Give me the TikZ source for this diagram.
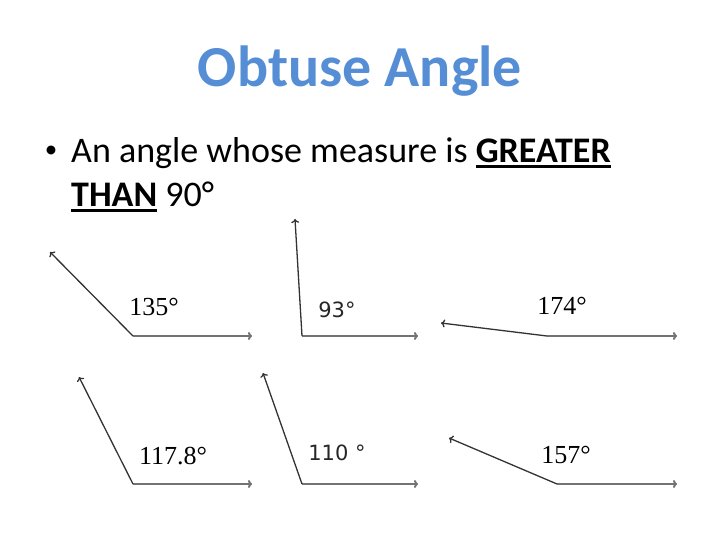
\documentclass[tikz,border=0pt]{standalone}
\usepackage{fontspec}
\setmainfont{Carlito}
\newfontfamily\lblserif{Liberation Serif}
\newfontfamily\lblsans{DejaVu Sans}
\usetikzlibrary{arrows.meta}
\definecolor{titleblue}{RGB}{85,142,213}
\newcommand\myul[1]{\setbox0\hbox{#1}\rlap{\rule[-5pt]{\wd0}{2.8pt}}\box0\relax}
\tikzset{
  baseray/.style={draw=black!55, line width=2pt, -{To[length=4pt,width=8pt]}},
  sideray/.style={draw=black!80, line width=1.3pt, -{To[length=4pt,width=8pt]}},
  seriflbl/.style={font=\lblserif\fontsize{26}{30}\selectfont, text=black},
  sanslbl/.style={font=\lblsans\fontsize{21}{24}\selectfont, text=black!85},
}
\begin{document}
\begin{tikzpicture}[x=1pt,y=-1pt]
\useasboundingbox (0,0) rectangle (720,540);
% title
\node[anchor=base, text=titleblue, font=\bfseries\fontsize{58}{64}\selectfont, inner sep=0] (title) at (360,87) {Obtuse Angle};
% bullet
\node[font=\fontsize{25}{30}\selectfont, inner sep=0] (bul) at (51,152) {\textbullet};
\node[anchor=base west, font=\fontsize{36}{44}\selectfont, inner sep=0] (line1) at (71,163) {An angle whose measure is \myul{\textbf{GREATER}}};
\node[anchor=base west, font=\fontsize{36}{44}\selectfont, inner sep=0] (line2) at (71,207) {\myul{\textbf{THAN}} 90°};
% angle 1: 135
\coordinate (v1) at (133,336); \coordinate (r1) at (252,336); \coordinate (s1) at (50,252);
\draw[baseray] (v1) -- (r1); \draw[sideray] (v1) -- (s1);
\node[seriflbl] (l1) at (154,307) {135°};
% angle 2: 93
\coordinate (v2) at (302,336); \coordinate (r2) at (418,336); \coordinate (s2) at (295,219);
\draw[baseray] (v2) -- (r2); \draw[sideray] (v2) -- (s2);
\node[sanslbl] (l2) at (337,310) {93°};
% angle 3: 174
\coordinate (v3) at (547,336); \coordinate (r3) at (677,336); \coordinate (s3) at (441,323);
\draw[baseray] (v3) -- (r3); \draw[sideray] (v3) -- (s3);
\node[seriflbl] (l3) at (562,306) {174°};
% angle 4: 117.8
\coordinate (v4) at (133,484); \coordinate (r4) at (252,484); \coordinate (s4) at (79,377);
\draw[baseray] (v4) -- (r4); \draw[sideray] (v4) -- (s4);
\node[seriflbl] (l4) at (173,456) {117.8°};
% angle 5: 110
\coordinate (v5) at (302,484); \coordinate (r5) at (418,484); \coordinate (s5) at (263,373);
\draw[baseray] (v5) -- (r5); \draw[sideray] (v5) -- (s5);
\node[sanslbl] (l5) at (337,453) {110 °};
% angle 6: 157
\coordinate (v6) at (557,484); \coordinate (r6) at (677,484); \coordinate (s6) at (449,438);
\draw[baseray] (v6) -- (r6); \draw[sideray] (v6) -- (s6);
\node[seriflbl] (l6) at (566,455) {157°};
\end{tikzpicture}
\end{document}
